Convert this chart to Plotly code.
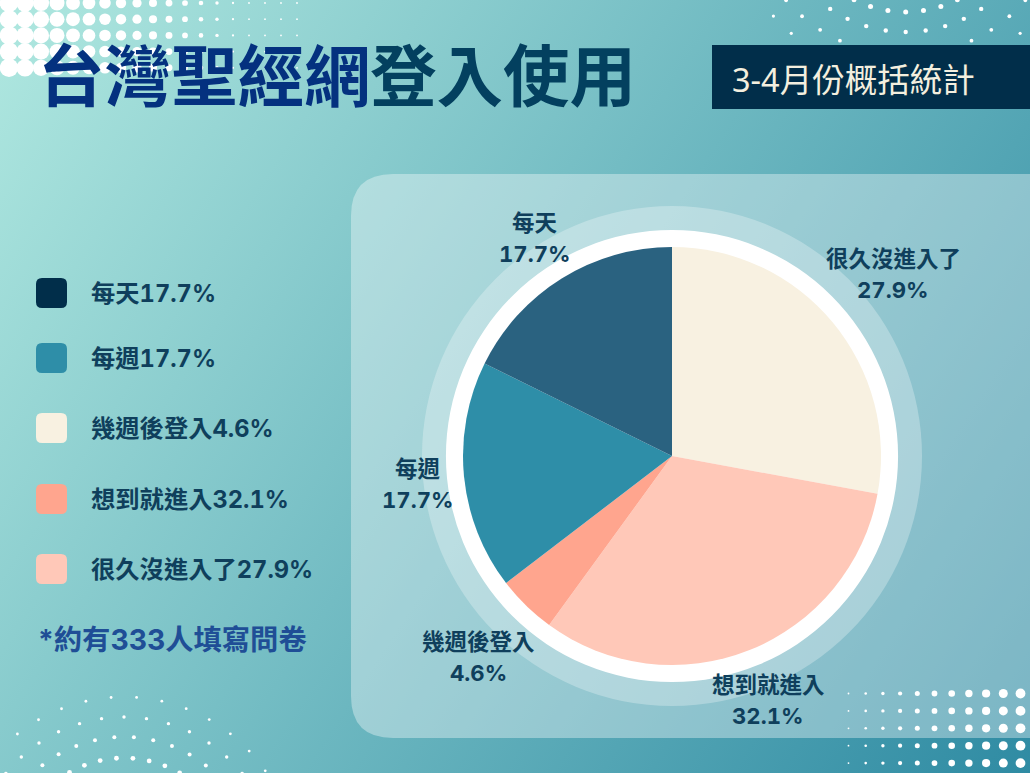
import base64
import math

import plotly.graph_objects as go

W, H = 1030, 773

categories = ["每天", "每週", "幾週後登入", "想到就進入", "很久沒進入了"]
values = [17.7, 17.7, 4.6, 32.1, 27.9]
title_blue = "台灣聖經網"
title_dark = "登入使用"
subtitle = "3-4月份概括統計"
note = "*約有333人填寫問卷"

pie_colors = ["#2a6280", "#2e8ea8", "#ffa58e", "#ffc8b8", "#f8f1e1"]
legend_colors = ["#012e4a", "#2e8ea8", "#f8f1e1", "#ffa58e", "#ffc8b8"]

legend_y = [293, 358, 428, 499, 569]
label_pos = [(535, 237.5), (418, 484), (478, 656.5), (768, 699.5), (893, 273.5)]

FONT = "Inter, Noto Sans CJK TC, sans-serif"
FONT_LIGHT = "Noto Sans, Noto Sans CJK TC, sans-serif"
TEXT_DARK = "#0f3f5c"
# the percentages in the reference have same-width digits
TABULAR = '<span style="font-variant-numeric:tabular-nums;font-feature-settings:\'tnum\';font-size:{}px">{}</span>'

CX, CY, R = 672, 456, 209


def pie_domain(r):
    return dict(x=[(CX - r) / W, (CX + r) / W], y=[1 - (CY + r) / H, 1 - (CY - r) / H])


def rounded_rect(x0, y0, x1, y1, r):
    return (f"M{x0 + r},{y0} L{x1 - r},{y0} Q{x1},{y0} {x1},{y0 + r} L{x1},{y1 - r} Q{x1},{y1} {x1 - r},{y1} "
            f"L{x0 + r},{y1} Q{x0},{y1} {x0},{y1 - r} L{x0},{y0 + r} Q{x0},{y0} {x0 + r},{y0} Z")


def arc_dots(cx, cy, radius, step, offset, size, sign, xs, ys, sizes):
    # dots along a ring, only the ones that land on the page are kept
    for k in range(-22, 23):
        a = math.radians(offset + k * step)
        x = cx + radius * math.sin(a)
        y = cy + sign * radius * math.cos(a)
        if -5 < x < W + 5 and -5 < y < H + 5:
            xs.append(x)
            ys.append(y)
            sizes.append(size)


# halftone dots in the corners
dot_x, dot_y, dot_s = [], [], []
for row in range(5):
    for col in range(19):
        dot_x.append(9 + 16 * col)
        dot_y.append(3 + 16.2 * row)
        dot_s.append(max(1.8, 18.5 - 1.16 * col))
for row in range(5):
    for col in range(11):
        dot_x.append(848.5 + 17.2 * col)
        dot_y.append(693.5 + 17.4 * row)
        dot_s.append(1.8 + 0.8 * col)
for radius, offset, size in [(172, 4.2, 2.8), (152, 0, 3.4), (132, 4.3, 4), (111, 4.6, 4.8)]:
    arc_dots(124, 869, radius, 8.5, offset, size, -1, dot_x, dot_y, dot_s)
for radius, step, size in [(95, 8.9, 5.5), (115, 8.9, 5), (135, 8.5, 4.4), (158, 8.2, 3.8), (178, 8.0, 3.2)]:
    arc_dots(905.7, -103, radius, step, 0, size, 1, dot_x, dot_y, dot_s)

# diagonal background gradient as an inline svg
svg = (f'<svg xmlns="http://www.w3.org/2000/svg" width="{W}" height="{H}"><defs>'
       '<linearGradient id="g" gradientUnits="userSpaceOnUse" x1="0" y1="0" x2="1074" y2="706">'
       '<stop offset="0" stop-color="#b0e8e0"/><stop offset="1" stop-color="#2f8ba3"/>'
       f'</linearGradient></defs><rect width="{W}" height="{H}" fill="url(#g)"/></svg>')
bg_src = "data:image/svg+xml;base64," + base64.b64encode(svg.encode()).decode()

fig = go.Figure()

fig.add_trace(go.Scatter(x=dot_x, y=dot_y, mode="markers", hoverinfo="skip", showlegend=False,
                         marker=dict(color="white", size=dot_s, opacity=1, line_width=0)))

# halo and white ring behind the pie
fig.add_trace(go.Pie(values=[1], domain=pie_domain(250), marker=dict(colors=["rgba(255,255,255,0.28)"]),
                     textinfo="none", hoverinfo="skip", showlegend=False, sort=False))
fig.add_trace(go.Pie(values=[1], domain=pie_domain(226), marker=dict(colors=["white"]),
                     textinfo="none", hoverinfo="skip", showlegend=False, sort=False))
# slices run clockwise from the top starting with the last category
fig.add_trace(go.Pie(labels=categories[::-1], values=values[::-1], domain=pie_domain(R), sort=False,
                     direction="clockwise", rotation=0, textinfo="none", showlegend=False,
                     marker=dict(colors=pie_colors[::-1], line_width=0)))

shapes = [
    dict(type="path", path=rounded_rect(351, 174, 1070, 738, 42), xref="x", yref="y", layer="below",
         fillcolor="rgba(255,255,255,0.36)", line_width=0),
    dict(type="rect", x0=712, x1=1030, y0=45, y1=109, xref="x", yref="y", layer="above",
         fillcolor="#012e4a", line_width=0),
]
annotations = []


def add_text(text, x, y, size, color, anchor="left", weight=700, family=FONT):
    annotations.append(dict(text=text, x=x, y=y, xref="x", yref="y", xanchor=anchor, yanchor="middle",
                            showarrow=False, align="center",
                            font=dict(family=family, size=size, color=color, weight=weight)))


add_text(title_blue, 36, 76.5, 66.5, "#04317f")
add_text(title_dark, 368, 76.5, 66.5, "#03405f")
add_text(subtitle, 730, 79, 32.5, "#f3efdf", weight=400, family=FONT_LIGHT)

for cat, val, color, y in zip(categories, values, legend_colors, legend_y):
    shapes.append(dict(type="path", path=rounded_rect(36, y - 15, 67, y + 15, 6), xref="x", yref="y",
                       layer="above", fillcolor=color, line_width=0))
    add_text(cat + TABULAR.format(23.7, f"{val}%"), 89, y, 24.3, TEXT_DARK)

for cat, val, (x, y) in zip(categories, values, label_pos):
    add_text(cat, x, y - 15.5, 22.5, TEXT_DARK, anchor="center")
    add_text(TABULAR.format(22.2, f"{val}%"), x, y + 15.5, 22.5, TEXT_DARK, anchor="center")

add_text(note, 35.5, 640, 28.3, "#1f4e96")

fig.update_layout(
    width=W, height=H, margin=dict(l=0, r=0, t=0, b=0), paper_bgcolor="#7cc4c8", plot_bgcolor="rgba(0,0,0,0)",
    xaxis=dict(range=[0, W], visible=False, fixedrange=True),
    yaxis=dict(range=[H, 0], visible=False, fixedrange=True),
    shapes=shapes, annotations=annotations, showlegend=False,
    images=[dict(source=bg_src, xref="paper", yref="paper", x=0, y=1, sizex=1, sizey=1,
                 xanchor="left", yanchor="top", sizing="stretch", layer="below")],
)

fig.write_html("out.html", config=dict(displayModeBar=False),
               post_script="document.body.style.margin='0';")
